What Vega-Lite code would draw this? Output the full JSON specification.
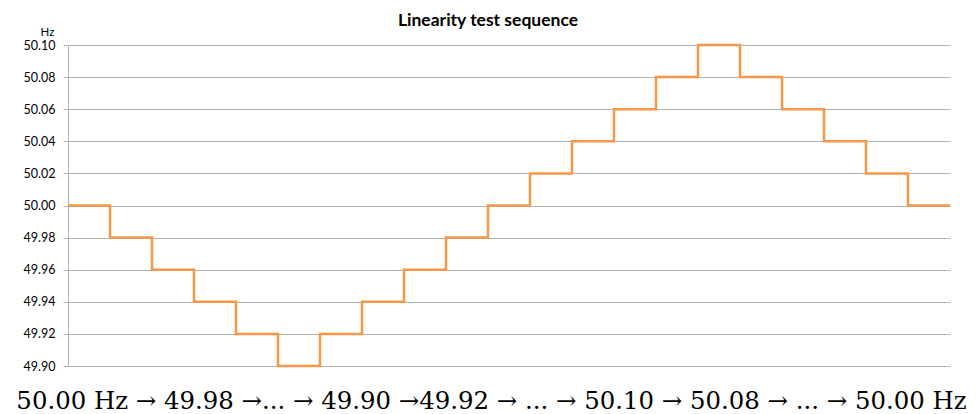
{
  "$schema": "https://vega.github.io/schema/vega-lite/v6.json",
  "width": 882,
  "height": 321,
  "autosize": {"type": "none"},
  "padding": {"left": 68, "top": 45, "right": 29, "bottom": 48},
  "background": "white",
  "title": {
    "text": "Linearity test sequence",
    "font": "Lato",
    "fontSize": 17.5,
    "fontWeight": "bold",
    "color": "#000000",
    "anchor": "middle",
    "frame": "group",
    "offset": -3,
    "dx": -21
  },
  "data": {
    "values": [
      {"step": 0, "hz": 50.00},
      {"step": 1, "hz": 49.98},
      {"step": 2, "hz": 49.96},
      {"step": 3, "hz": 49.94},
      {"step": 4, "hz": 49.92},
      {"step": 5, "hz": 49.90},
      {"step": 6, "hz": 49.92},
      {"step": 7, "hz": 49.94},
      {"step": 8, "hz": 49.96},
      {"step": 9, "hz": 49.98},
      {"step": 10, "hz": 50.00},
      {"step": 11, "hz": 50.02},
      {"step": 12, "hz": 50.04},
      {"step": 13, "hz": 50.06},
      {"step": 14, "hz": 50.08},
      {"step": 15, "hz": 50.10},
      {"step": 16, "hz": 50.08},
      {"step": 17, "hz": 50.06},
      {"step": 18, "hz": 50.04},
      {"step": 19, "hz": 50.02},
      {"step": 20, "hz": 50.00},
      {"step": 21, "hz": 50.00}
    ]
  },
  "mark": {"type": "line", "interpolate": "step-after", "color": "#F79646", "strokeWidth": 2.5, "clip": false},
  "encoding": {
    "x": {
      "field": "step",
      "type": "quantitative",
      "scale": {"domain": [0, 21], "nice": false, "zero": false},
      "axis": {
        "domain": false,
        "ticks": false,
        "labels": false,
        "grid": false,
        "title": "50.00 Hz → 49.98 →... → 49.90 →49.92 → ... → 50.10 → 50.08 → ... → 50.00 Hz",
        "titleFont": "DejaVu Serif",
        "titleFontSize": 24.4,
        "titleFontWeight": "normal",
        "titleColor": "#000000",
        "titleAlign": "center",
        "titleAnchor": null,
        "titleX": 423,
        "titleY": 42,
        "titleBaseline": "alphabetic"
      }
    },
    "y": {
      "field": "hz",
      "type": "quantitative",
      "scale": {"domain": [49.9, 50.1], "nice": false, "zero": false},
      "axis": {
        "values": [49.9, 49.92, 49.94, 49.96, 49.98, 50.0, 50.02, 50.04, 50.06, 50.08, 50.1],
        "format": ".2f",
        "labelFont": "Lato",
        "labelFontSize": 12.5,
        "labelColor": "#000000",
        "labelPadding": 8,
        "tickSize": 5,
        "tickColor": "#b3b3b3",
        "domainColor": "#b3b3b3",
        "gridColor": "#b3b3b3",
        "gridWidth": 1.2,
        "grid": true,
        "title": "Hz",
        "titleFont": "Lato",
        "titleFontSize": 11.5,
        "titleFontWeight": "normal",
        "titleColor": "#000000",
        "titleAngle": 0,
        "titleAlign": "center",
        "titleBaseline": "alphabetic",
        "titleX": -21,
        "titleY": -10
      }
    }
  },
  "config": {"view": {"stroke": null}}
}
